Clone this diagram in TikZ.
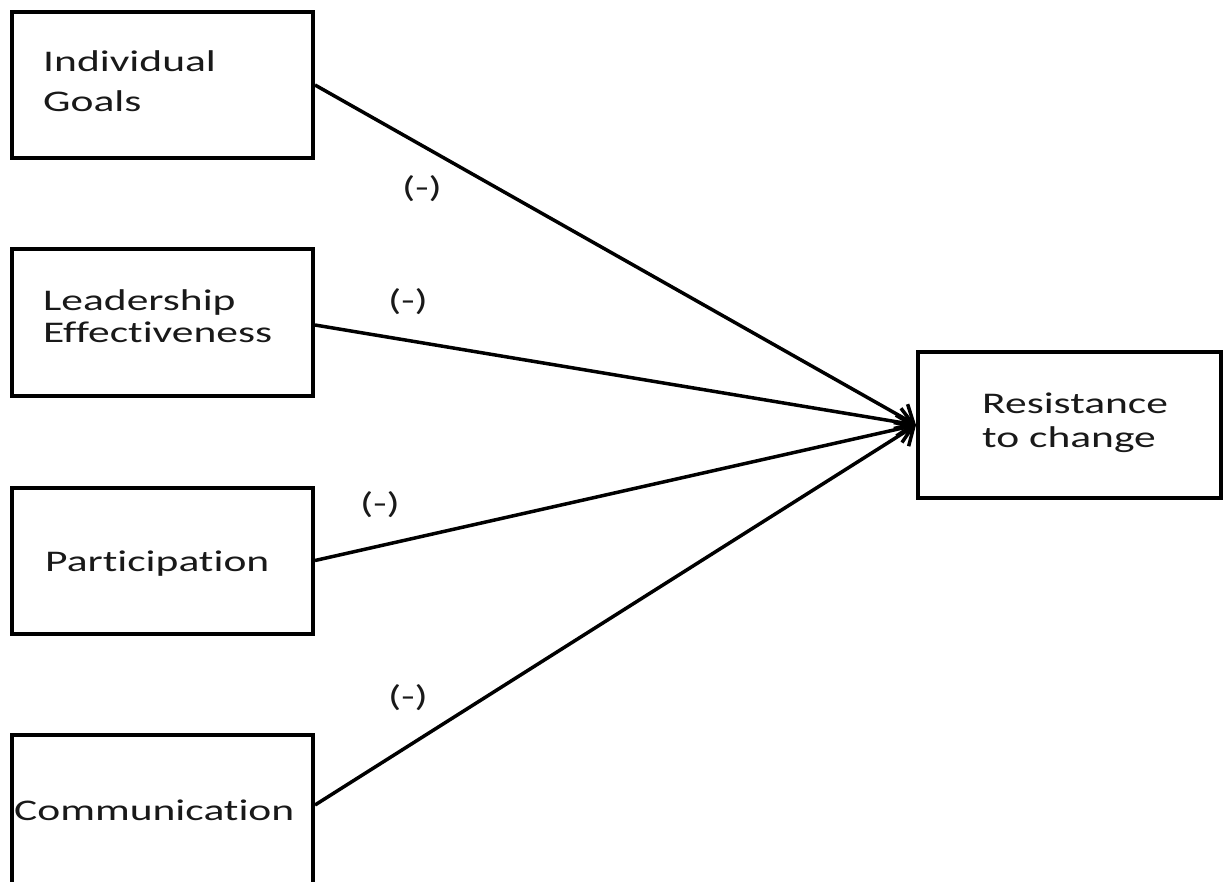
\documentclass[tikz,border=0pt]{standalone}
\usepackage{fontspec}
\newfontfamily\calib{Carlito}[FakeStretch=1.45, Ligatures={NoCommon}, RawFeature={-liga;-dlig}]
\usetikzlibrary{arrows.meta}
\tikzset{
  box/.style={draw=black, line width=4pt, rectangle, minimum width=301pt, minimum height=146pt, inner sep=0pt},
  txt/.style={anchor=base west, inner sep=0pt, font=\calib\fontsize{30}{34}\selectfont, text=black!90},
  sign/.style={inner sep=0pt, font=\calib\fontsize{30}{34}\selectfont, text=black!90},
  conn/.style={line width=3.5pt, -{Straight Barb[length=15pt, width=28pt, line width=3.5pt]}}
}
\begin{document}
\begin{tikzpicture}[x=1pt, y=-1pt]
\clip (0,0) rectangle (1225,882);
\fill[white] (0,0) rectangle (1225,882);
% boxes
\node[box] (ig) at (162.5,85) {};
\node[box] (le) at (162.5,322.5) {};
\node[box] (pa) at (162.5,560.5) {};
\node[box, minimum height=200pt] (cm) at (162.5,835) {};
\node[box, minimum width=303pt] (rc) at (1069.5,425) {};
% texts
\node[txt] (igA) at (43,72) {Individual};
\node[txt] (igB) at (43,112) {Goals};
\node[txt] (leA) at (43,311) {Leadership};
\node[txt] (leB) at (43,342) {Effectiveness};
\node[txt] (paA) at (45,571) {Participation};
\node[txt] (cmA) at (14,820) {Communication};
\node[txt] (rcA) at (982,413) {Resistance};
\node[txt] (rcB) at (982,447) {to change};
% connector start for the cut-off box
\coordinate (cmout) at ([yshift=-72pt]cm.north east);
% connectors
\draw[conn] (ig.east) -- (rc.west);
\draw[conn] ([yshift=-2.5pt]le.east) -- (rc.west);
\draw[conn] (pa.east) -- (rc.west);
\draw[conn] (cmout) -- (rc.west);
% signs
\node[sign] (s1) at (422,189) {(-)};
\node[sign] (s2) at (408,302) {(-)};
\node[sign] (s3) at (380,505) {(-)};
\node[sign] (s4) at (408,698) {(-)};
\end{tikzpicture}
\end{document}
